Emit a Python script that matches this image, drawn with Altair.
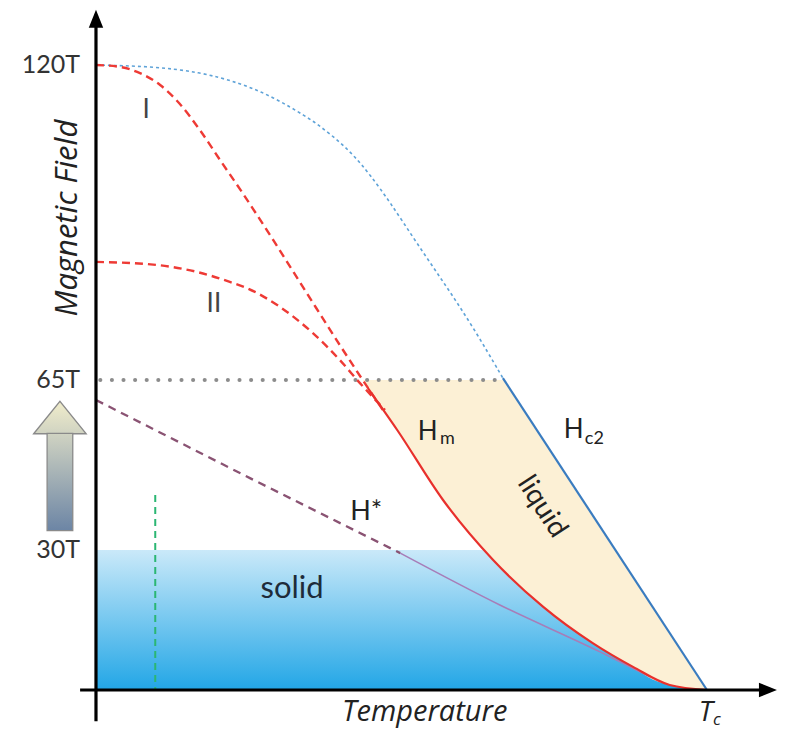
import altair as alt
import pandas as pd

# ---- data (T in units of Tc, H normalised so that 120T = 1) ----
hc2_dotted_t = [0, 0.088, 0.170, 0.236, 0.290, 0.345, 0.367, 0.399, 0.424, 0.448, 0.481, 0.525, 0.574, 0.617, 0.666]
hc2_dotted_h = [1.0, 0.998, 0.989, 0.971, 0.949, 0.917, 0.902, 0.877, 0.853, 0.825, 0.781, 0.715, 0.645, 0.581, 0.499]

hc2_t = [0.666, 1.0]
hc2_h = [0.499, 0.0]

curve1_t = [0, 0.039, 0.072, 0.105, 0.137, 0.170, 0.203, 0.240, 0.290, 0.345, 0.399, 0.444, 0.473]
curve1_h = [1.0, 0.997, 0.987, 0.968, 0.938, 0.896, 0.848, 0.795, 0.720, 0.635, 0.552, 0.485, 0.443]

curve2_t = [0, 0.100, 0.165, 0.219, 0.247, 0.301, 0.355, 0.399, 0.432, 0.473]
curve2_h = [0.685, 0.680, 0.669, 0.653, 0.643, 0.613, 0.571, 0.528, 0.491, 0.448]

hm_t = [0.445, 0.493, 0.568, 0.650, 0.732, 0.813, 0.879, 0.939, 1.0]
hm_h = [0.483, 0.416, 0.304, 0.208, 0.133, 0.075, 0.037, 0.008, 0.0]

hstar_dash_t = [0, 0.252, 0.498]
hstar_dash_h = [0.464, 0.339, 0.219]
hstar_solid_t = [0.498, 0.661, 0.825, 0.907]
hstar_solid_h = [0.219, 0.136, 0.061, 0.021]

level_65T = 0.496
level_30T = 0.224
solid_edge_t = 0.636
green_t = 0.097
green_top = 0.312

tick_labels = ["120T", "65T", "30T"]
tick_levels = [1.0, 0.496, 0.224]

# ---- scales ----
X_DOM = [-0.144, 1.1146]
Y_DOM = [-0.064, 1.0912]
xs = alt.Scale(domain=X_DOM, nice=False, zero=False)
ys = alt.Scale(domain=Y_DOM, nice=False, zero=False)


def df(t, h):
    return pd.DataFrame({"t": t, "h": h, "i": range(len(t))})


def X(field="t"):
    return alt.X(f"{field}:Q", scale=xs, axis=None)


def Y(field="h"):
    return alt.Y(f"{field}:Q", scale=ys, axis=None)


def grad(c0, c1):
    return alt.Gradient(
        gradient="linear",
        stops=[alt.GradientStop(offset=0, color=c0), alt.GradientStop(offset=1, color=c1)],
        x1=0, x2=0, y1=0, y2=1,
    )


layers = []

# solid region (gradient blue)
solid_t = [0.0, solid_edge_t] + hm_t[3:]
solid_h = [level_30T, level_30T] + hm_h[3:]
solid_df = pd.DataFrame({"t": solid_t, "h": solid_h, "h0": [0.0] * len(solid_t)})
layers.append(
    alt.Chart(solid_df).mark_area(color=grad("#CAE9F9", "#22A6E6"), interpolate="monotone")
    .encode(x=X(), y=Y(), y2="h0:Q")
)

# liquid region (cream) between Hm and Hc2
liq_h = [level_65T] + hm_h
liq_left = [0.437] + hm_t
slope = (hc2_t[1] - hc2_t[0]) / (hc2_h[0] - hc2_h[1])
liq_right = [hc2_t[0] + (hc2_h[0] - h) * slope for h in liq_h]
liq_df = pd.DataFrame({"h": liq_h, "t": liq_left, "t2": liq_right})
layers.append(
    alt.Chart(liq_df).mark_area(color="#FCF0D5", orient="horizontal", interpolate="monotone")
    .encode(y=Y(), x=X(), x2="t2:Q")
)

# 65T gray dotted level
gray_df = pd.DataFrame({"t": [0.007], "t2": [0.666], "h": [level_65T]})
layers.append(
    alt.Chart(gray_df).mark_rule(color="#8C8C8C", strokeWidth=4, strokeDash=[0.1, 11.5], strokeCap="round")
    .encode(x=X(), x2="t2:Q", y=Y())
)

# green dashed vertical
green_df = pd.DataFrame({"t": [green_t], "h": [green_top], "h2": [0.0]})
layers.append(
    alt.Chart(green_df).mark_rule(color="#2BB673", strokeWidth=2, strokeDash=[7, 5])
    .encode(x=X(), y=Y(), y2="h2:Q")
)

# H* line
layers.append(
    alt.Chart(df(hstar_dash_t, hstar_dash_h)).mark_line(color="#8A5373", strokeWidth=2.3, strokeDash=[8, 6])
    .encode(x=X(), y=Y(), order="i:Q")
)
layers.append(
    alt.Chart(df(hstar_solid_t, hstar_solid_h)).mark_line(color="#A77DB8", strokeWidth=1.6, interpolate="monotone")
    .encode(x=X(), y=Y(), order="i:Q")
)

# Hc2 dotted upper extension
layers.append(
    alt.Chart(df(hc2_dotted_t, hc2_dotted_h)).mark_line(color="#5FA3D8", strokeWidth=1.6, strokeDash=[3, 3], interpolate="basis")
    .encode(x=X(), y=Y(), order="i:Q")
)
# Hc2 solid
layers.append(
    alt.Chart(df(hc2_t, hc2_h)).mark_line(color="#3A7CC0", strokeWidth=2.2)
    .encode(x=X(), y=Y(), order="i:Q")
)

# red dashed curves I and II
for ct, ch in [(curve1_t, curve1_h), (curve2_t, curve2_h)]:
    layers.append(
        alt.Chart(df(ct, ch)).mark_line(color="#EE3A35", strokeWidth=2.4, strokeDash=[8, 5], interpolate="monotone")
        .encode(x=X(), y=Y(), order="i:Q")
    )

# Hm solid red
layers.append(
    alt.Chart(df(hm_t, hm_h)).mark_line(color="#E8302C", strokeWidth=2.2, interpolate="monotone")
    .encode(x=X(), y=Y(), order="i:Q")
)

# axes (arrows)
yaxis_df = pd.DataFrame({"t": [0.0], "h": [-0.05], "h2": [1.07]})
layers.append(
    alt.Chart(yaxis_df).mark_rule(color="black", strokeWidth=3.2)
    .encode(x=X(), y=Y(), y2="h2:Q")
)
xaxis_df = pd.DataFrame({"t": [-0.026], "t2": [1.09], "h": [0.0]})
layers.append(
    alt.Chart(xaxis_df).mark_rule(color="black", strokeWidth=3.2)
    .encode(x=X(), x2="t2:Q", y=Y())
)
layers.append(
    alt.Chart(pd.DataFrame({"t": [0.0], "h": [1.074]}))
    .mark_point(shape="M0,-1L0.8,1L-0.8,1Z", filled=True, color="black", opacity=1, size=324)
    .encode(x=X(), y=Y())
)
layers.append(
    alt.Chart(pd.DataFrame({"t": [1.0998], "h": [0.0]}))
    .mark_point(shape="M1,0L-1,0.8L-1,-0.8Z", filled=True, color="black", opacity=1, size=324)
    .encode(x=X(), y=Y())
)

# gradient up-arrow left of axis: head (triangle) + shaft (rect)
head_df = pd.DataFrame({"t": [-0.102, -0.059, -0.016], "h": [0.410, 0.462, 0.410], "hb": [0.410] * 3})
layers.append(
    alt.Chart(head_df).mark_area(color=grad("#F1EDCB", "#D0D3C2"), stroke="#8A8A8A", strokeWidth=1.3)
    .encode(x=X(), y=Y(), y2="hb:Q")
)
shaft_df = pd.DataFrame({"t": [-0.080], "t2": [-0.038], "h": [0.4105], "h2": [0.255]})
layers.append(
    alt.Chart(shaft_df).mark_rect(color=grad("#D0D3C2", "#6C85A5"), stroke="#8A8A8A", strokeWidth=1.3)
    .encode(x=X(), x2="t2:Q", y=Y(), y2="h2:Q")
)

# tick labels
tick_df = pd.DataFrame({"lab": tick_labels, "h": tick_levels, "t": [-0.026] * 3})
layers.append(
    alt.Chart(tick_df).mark_text(font="Lato", fontSize=25, color="#333333", align="right", baseline="middle")
    .encode(x=X(), y=Y(), text="lab:N")
)

# annotations (text, t, h, size, align, baseline, angle, style, color, font)
ann = [
    ("Magnetic Field", -0.045, 0.755, 31, "center", "middle", 270, "italic", "#222222", "Open Sans"),
    ("I", 0.082, 0.915, 26, "center", "alphabetic", 0, "normal", "#444444", "Lato"),
    ("II", 0.193, 0.605, 26, "center", "alphabetic", 0, "normal", "#444444", "Lato"),
    ("H", 0.543, 0.400, 26, "center", "alphabetic", 0, "normal", "#222222", "Lato"),
    ("m", 0.563, 0.394, 18, "left", "alphabetic", 0, "normal", "#222222", "Lato"),
    ("H", 0.782, 0.403, 26, "center", "alphabetic", 0, "normal", "#222222", "Lato"),
    ("c2", 0.800, 0.394, 18, "left", "alphabetic", 0, "normal", "#222222", "Lato"),
    ("H*", 0.416, 0.272, 27, "left", "alphabetic", 0, "normal", "#222222", "Lato"),
    ("liquid", 0.730, 0.293, 28, "center", "middle", 57, "normal", "#222222", "Lato"),
    ("solid", 0.321, 0.147, 31, "center", "alphabetic", 0, "normal", "#1E2B3A", "Lato"),
    ("Temperature", 0.538, -0.0496, 29, "center", "alphabetic", 0, "italic", "#222222", "Open Sans"),
    ("T", 0.998, -0.0496, 28, "center", "alphabetic", 0, "italic", "#222222", "Open Sans"),
    ("c", 1.010, -0.0552, 17, "left", "alphabetic", 0, "italic", "#222222", "Open Sans"),
]
for txt, t, h, fs, al, bl, ang, sty, col, fnt in ann:
    layers.append(
        alt.Chart(pd.DataFrame({"t": [t], "h": [h], "txt": [txt]}))
        .mark_text(font=fnt, fontSize=fs, align=al, baseline=bl, angle=ang, fontStyle=sty, color=col)
        .encode(x=X(), y=Y(), text="txt:N")
    )

chart = (
    alt.layer(*layers)
    .properties(width=769, height=722, autosize=alt.AutoSizeParams(type="none"), padding=0)
    .configure_view(stroke=None)
)

chart.save("out.html", embed_options={"renderer": "svg", "actions": False})
